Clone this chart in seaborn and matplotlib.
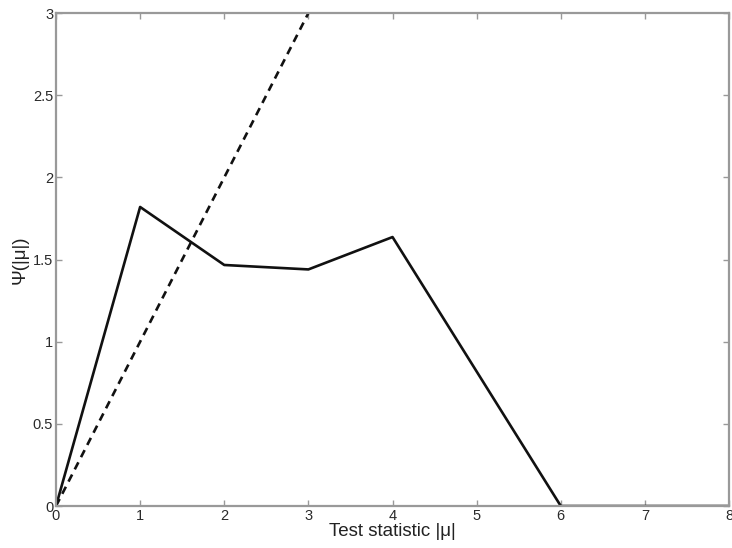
import matplotlib
matplotlib.use("Agg")
import matplotlib.pyplot as plt
import seaborn as sns
import pandas as pd

# Psi function of the test statistic (solid) and the identity reference (dashed)
psi_x = [0, 1, 2, 3, 4, 6, 8]
psi_y = [0, 1.82, 1.467, 1.44, 1.637, 0, 0]
ident_x = [0, 3]
ident_y = [0, 3]

x_ticks = [0, 1, 2, 3, 4, 5, 6, 7, 8]
y_ticks = [0, 0.5, 1, 1.5, 2, 2.5, 3]
y_tick_labels = ["0", "0.5", "1", "1.5", "2", "2.5", "3"]

sns.set_theme(style="white")
plt.rcParams["font.family"] = ["Liberation Sans", "DejaVu Sans"]

fig = plt.figure(figsize=(7.32, 5.48), dpi=100)
ax = fig.add_axes([0.0765, 0.0766, 0.9195, 0.8995])

psi = pd.DataFrame({"x": psi_x, "y": psi_y})
ident = pd.DataFrame({"x": ident_x, "y": ident_y})
sns.lineplot(data=psi, x="x", y="y", ax=ax, color="#111111", linewidth=1.9,
             sort=False, estimator=None)
sns.lineplot(data=ident, x="x", y="y", ax=ax, color="#111111", linewidth=1.9,
             linestyle=(0, (3, 2.2)), sort=False, estimator=None)

ax.set_xlim(0, 8)
ax.set_ylim(0, 3)
ax.set_xticks(x_ticks)
ax.set_xticklabels([str(t) for t in x_ticks])
ax.set_yticks(y_ticks)
ax.set_yticklabels(y_tick_labels)

for s in ax.spines.values():
    s.set_color("#999999")
    s.set_linewidth(1.6)
    s.set_visible(True)

ax.tick_params(axis="both", which="major", direction="in", length=4, width=1,
               color="#999999", labelsize=10.5, labelcolor="#2a2a2a",
               top=True, right=True, bottom=True, left=True, pad=2)

ax.set_xlabel("Test statistic |μ|", fontsize=13.5, color="#222222", labelpad=0.5)
ax.set_ylabel("Ψ(|μ|)", fontsize=13.5, color="#222222", labelpad=3)

fig.savefig("out.png", dpi=100, facecolor="white")
